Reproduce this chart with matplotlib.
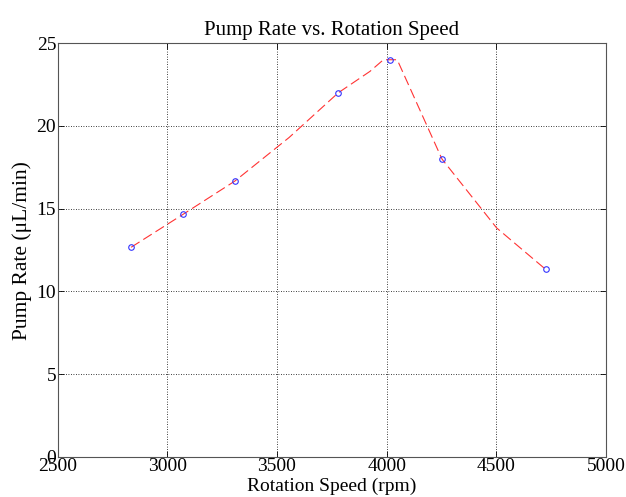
import matplotlib
matplotlib.use("Agg")
import matplotlib.pyplot as plt

# measured points
speed_rpm = [2835, 3073, 3308, 3779, 4016, 4252, 4725]
pump_rate = [12.67, 14.67, 16.67, 22.0, 24.0, 18.0, 11.33]

# smoothed trend line (vertices)
trend_rpm = [2835, 3073, 3308, 3555, 3779, 3924, 3985, 4048, 4252, 4501, 4725]
trend_rate = [12.67, 14.67, 16.67, 19.3, 22.0, 23.3, 24.0, 24.0, 18.0, 13.84, 11.33]

x_ticks = [2500, 3000, 3500, 4000, 4500, 5000]
y_ticks = [0, 5, 10, 15, 20, 25]

plt.rcParams["font.family"] = ["Liberation Serif", "DejaVu Serif"]

fig = plt.figure(figsize=(6.26, 4.97), dpi=100)
ax = fig.add_axes([0.092, 0.0805, 0.8762, 0.8326])

ax.plot(trend_rpm, trend_rate, color="#ff3333", linestyle=(0, (9, 4)),
        linewidth=0.8, zorder=2)
ax.plot(speed_rpm, pump_rate, linestyle="none", marker="o", markersize=4,
        markerfacecolor="none", markeredgecolor="#3333ff",
        markeredgewidth=0.8, zorder=3)

ax.set_xlim(2500, 5000)
ax.set_ylim(0, 25)
ax.set_xticks(x_ticks)
ax.set_yticks(y_ticks)
ax.grid(True, color="black", linestyle=(0, (1, 2)), linewidth=0.6)
ax.tick_params(direction="in", length=4, labelsize=14, width=0.6, pad=1,
               top=True, right=True)
for s in ax.spines.values():
    s.set_color("#555555")
    s.set_linewidth(0.8)

ax.set_title("Pump Rate vs. Rotation Speed", fontsize=15, pad=6)
ax.set_xlabel("Rotation Speed (rpm)", fontsize=14, labelpad=2)
ax.set_ylabel("Pump Rate (\u03bcL/min)", fontsize=15.5, labelpad=3)

fig.savefig("out.png", dpi=100)
